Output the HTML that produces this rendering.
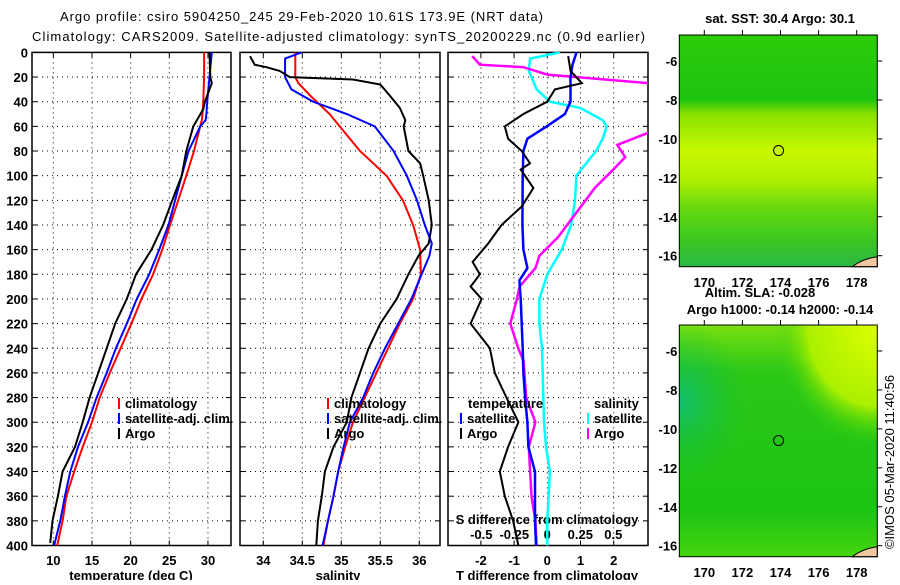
<!DOCTYPE html>
<html><head><meta charset="utf-8"><style>
body{margin:0;background:#fff}
svg text{font-family:"Liberation Sans",Arial,sans-serif;font-weight:bold;font-size:13px;fill:#000}
svg text.norm{font-weight:normal}
</style></head><body>
<svg id="chart" xmlns="http://www.w3.org/2000/svg" width="900" height="580" viewBox="0 0 900 580">
<defs>
<clipPath id="c1"><rect x="32" y="52" width="199" height="494"/></clipPath>
<clipPath id="c2"><rect x="240" y="52" width="200" height="494"/></clipPath>
<clipPath id="c3"><rect x="448" y="52" width="200" height="494"/></clipPath>
<linearGradient id="g1" x1="0" y1="0" x2="0" y2="1">
<stop offset="0" stop-color="#2ccc0a"/><stop offset="0.28" stop-color="#1ec410"/><stop offset="0.34" stop-color="#88e000"/><stop offset="0.5" stop-color="#c8f800"/><stop offset="0.62" stop-color="#b0f000"/><stop offset="0.75" stop-color="#66d810"/><stop offset="0.88" stop-color="#3cc820"/><stop offset="1" stop-color="#2cb844"/></linearGradient>
<radialGradient id="g2" cx="1" cy="0" r="0.7"><stop offset="0" stop-color="#ddff00"/><stop offset="0.5" stop-color="#aaf000"/><stop offset="0.75" stop-color="#30cc10" stop-opacity="0"/></radialGradient>
<radialGradient id="g3" cx="0" cy="0.33" r="0.35"><stop offset="0" stop-color="#10c070"/><stop offset="1" stop-color="#18c030" stop-opacity="0"/></radialGradient>
<linearGradient id="g4" x1="0" y1="0" x2="0" y2="1"><stop offset="0" stop-color="#7ae010"/><stop offset="0.2" stop-color="#2cc818"/><stop offset="0.8" stop-color="#1cc414"/><stop offset="1" stop-color="#44d410"/></linearGradient>
</defs>
<g id="root"></g>
</svg>
<script>
// depth levels (m)
const depthT = [0,20,25,40,46,60,80,100,118,140,160,180,200,220,240,260,280,300,320,340,360,380,398];
const tempArgo = [30.2,30.3,30.5,29.6,29.4,28.1,27.2,26.6,25.5,24.2,22.7,20.7,19.5,18.0,16.9,15.8,14.7,13.8,12.8,11.2,10.6,9.9,9.6];
const depthC = [0,20,40,50,55,60,80,100,140,160,180,200,220,240,260,280,300,320,340,360,380,400];
const tempClim = [29.5,29.5,29.4,29.3,29.2,29.0,28.2,27.2,25.1,24.1,22.9,21.4,20.1,18.7,17.3,16.0,15.0,13.8,12.7,11.7,11.2,10.5];
const tempSat = [30.5,30.2,29.9,29.8,29.7,29.0,27.5,26.6,24.9,23.7,22.4,20.8,19.5,18.1,16.9,15.6,14.5,13.2,12.2,11.5,10.9,10.1];
const depthSC = [0,20,25,35,50,60,80,100,120,140,160,180,200,220,240,260,280,300,320,340,360,380,400];
const salClim = [34.41,34.41,34.45,34.6,34.85,34.98,35.24,35.58,35.79,35.92,36.01,36.02,35.92,35.75,35.6,35.45,35.3,35.15,35.05,34.96,34.9,34.83,34.77];
const depthSS = [0,5,20,30,40,50,60,80,100,120,140,155,165,180,200,220,240,260,280,300,320,340,360,380,400];
const salSat = [34.49,34.28,34.28,34.36,34.64,35.07,35.43,35.67,35.84,35.97,36.07,36.16,36.13,36.03,35.9,35.73,35.56,35.41,35.28,35.11,35.03,34.96,34.9,34.83,34.76];
const depthSA = [3,10,12,15,20,22,26,35,45,55,60,80,90,100,120,140,155,165,180,200,220,240,260,280,300,320,340,360,380,400];
const salArgo = [33.83,33.89,34.04,34.21,34.34,35.15,35.5,35.62,35.75,35.82,35.8,35.86,36.01,36.05,36.12,36.16,36.12,35.99,35.86,35.71,35.5,35.35,35.24,35.13,35.07,34.9,34.79,34.75,34.7,34.68];
const depthDT = [0,10,20,40,50,60,70,80,100,140,160,175,185,200,220,240,260,280,300,320,340,360,380,400];
const tdiffSat = [0.88,0.76,0.7,0.7,0.53,-0.02,-0.6,-0.72,-0.74,-0.75,-0.72,-0.6,-0.84,-0.8,-0.77,-0.74,-0.72,-0.67,-0.6,-0.57,-0.37,-0.37,-0.37,-0.34];
const depthDA = [3,15,25,30,40,50,60,70,80,90,95,110,125,140,155,170,180,190,200,220,240,260,280,300,320,340,360,380,400];
const tdiffArgo = [0.63,0.7,1.04,0.23,0,-0.72,-1.28,-1.18,-0.77,-0.52,-0.8,-0.42,-0.77,-1.38,-1.78,-2.25,-2.03,-2.31,-1.98,-2.31,-1.73,-1.58,-1.23,-0.87,-1.18,-1.43,-1.28,-1.03,-0.87];
const depthDS = [0,5,15,30,40,45,55,60,70,80,100,120,140,160,180,200,220,240,260,280,300,320,340,360,380,400];
const sdiffSat = [0.096,-0.13,-0.14,-0.08,0.02,0.25,0.42,0.45,0.42,0.37,0.22,0.21,0.18,0.11,0,-0.06,-0.06,-0.04,-0.035,-0.03,-0.025,-0.01,0.02,0.01,0,0];
const depthDSA = [3,10,12,18,25,26,60,65,75,85,95,110,130,150,165,175,190,200,220,240,250,280,300,320,340,360,380,400];
const sdiffArgo = [-0.57,-0.51,-0.18,0,0.77,0.9,0.9,0.77,0.53,0.59,0.5,0.36,0.22,0.08,-0.06,-0.09,-0.21,-0.23,-0.28,-0.22,-0.18,-0.16,-0.09,-0.14,-0.13,-0.12,-0.09,-0.08];
const depthTicks = [0,20,40,60,80,100,120,140,160,180,200,220,240,260,280,300,320,340,360,380,400];
const tempTicks = [10,15,20,25,30];
const salTicks = [34,34.5,35,35.5,36];
const tdTicks = [-2,-1,0,1,2];
const sdTicks = [-0.5,-0.25,0,0.25,0.5];
const lonTicks = [170,172,174,176,178];
const latTicks = [-6,-8,-10,-12,-14,-16];
const argoLon = 173.9, argoLat = -10.6;

const NS='http://www.w3.org/2000/svg';
const root=document.getElementById('root');
function mk(tag,attrs,parent){const e=document.createElementNS(NS,tag);for(const k in attrs)e.setAttribute(k,attrs[k]);(parent||root).appendChild(e);return e;}
function txt(x,y,s,anchor,parent,size){const t=mk('text',{x:x,y:y,'text-anchor':anchor||'start'},parent);if(size)t.setAttribute('font-size',size);t.textContent=s;return t;}
const Y0=52.4,Y1=545.5;
const yD=d=>Y0+d*(Y1-Y0)/400;
const xT=v=>53.3+(v-10)*7.733;
const xS=v=>263.3+(v-34)*78;
const xTD=v=>547.3+v*33.2;
const xSD=v=>547.3+v*132;

function line(ds,vs,sx,color,clip,name,w){
  const pts=ds.map((d,i)=>sx(vs[i]).toFixed(1)+','+yD(d).toFixed(1)).join(' ');
  const p=mk('polyline',{points:pts,fill:'none',stroke:color,'stroke-width':w||2,'clip-path':'url(#'+clip+')'});
  
  
}
function panel(x0,x1,ticks,sx,name,fmt){
  const g=mk('g',{});
  
  
  depthTicks.forEach(d=>{if(d>0&&d<400)mk('line',{x1:x0,x2:x1,y1:yD(d),y2:yD(d),stroke:'#000','stroke-dasharray':'1,4'},g);
    mk('line',{x1:x0,x2:x0+5,y1:yD(d),y2:yD(d),stroke:'#000'},g);mk('line',{x1:x1-5,x2:x1,y1:yD(d),y2:yD(d),stroke:'#000'},g);});
  ticks.forEach(t=>{const x=sx(t);mk('line',{x1:x,x2:x,y1:Y0,y2:Y1,stroke:'#000','stroke-dasharray':'1,4'},g);
    mk('line',{x1:x,x2:x,y1:Y0,y2:Y0+5,stroke:'#000'},g);mk('line',{x1:x,x2:x,y1:Y1-5,y2:Y1,stroke:'#000'},g);
    const l=txt(x,565,fmt?fmt(t):String(t),'middle',g);});
  mk('rect',{x:x0,y:Y0,width:x1-x0,height:Y1-Y0,fill:'none',stroke:'#000','stroke-width':1.5},g);
  return g;
}
// titles
let t=txt(60,21,'Argo profile: csiro 5904250_245 29-Feb-2020 10.61S 173.9E (NRT data)','start',null,'14');
t.setAttribute('class','norm');t.setAttribute('textLength','483');

t=txt(32,41,'Climatology: CARS2009. Satellite-adjusted climatology: synTS_20200229.nc (0.9d earlier)','start',null,'14');
t.setAttribute('class','norm');t.setAttribute('textLength','613');


// depth axis labels
depthTicks.forEach(d=>{const l=txt(28,yD(d)+5,String(d),'end');});

panel(32,231,tempTicks,xT,'temperature-panel');
panel(240,440,salTicks,xS,'salinity-panel');
panel(448,648,tdTicks,xTD,'difference-panel');
t=txt(131,580,'temperature (deg C)','middle');
t=txt(338,580,'salinity','middle');
t=txt(547,580,'T difference from climatology','middle');
t=txt(547,524,'S difference from climatology','middle');
sdTicks.forEach(s=>{const l=txt(xSD(s),539,String(s),'middle');});

line(depthC,tempClim,xT,'#ff0000','c1','temp-climatology-line');
line(depthC,tempSat,xT,'#0000ff','c1','temp-satellite-line');
line(depthT,tempArgo,xT,'#000','c1','temp-argo-line');
line(depthSC,salClim,xS,'#ff0000','c2','sal-climatology-line');
line(depthSS,salSat,xS,'#0000ff','c2','sal-satellite-line');
line(depthSA,salArgo,xS,'#000','c2','sal-argo-line');
line(depthDS,sdiffSat,xSD,'#00ffff','c3','sdiff-satellite-line',2.5);
line(depthDSA,sdiffArgo,xSD,'#ff00ff','c3','sdiff-argo-line',2.5);
line(depthDT,tdiffSat,xTD,'#0000ff','c3','tdiff-satellite-line',2.5);
line(depthDA,tdiffArgo,xTD,'#000','c3','tdiff-argo-line');

function legend(x,y,items,name){
  const g=mk('g',{});
  items.forEach((it,i)=>{mk('rect',{x:x,y:y+i*15-10,width:2,height:11,fill:it[1]},g);txt(x+7,y+i*15,it[0],'start',g);});
}
legend(118,408,[['climatology','#ff0000'],['satellite-adj. clim.','#0000ff'],['Argo','#000']],'temp-legend');
legend(327,408,[['climatology','#ff0000'],['satellite-adj. clim.','#0000ff'],['Argo','#000']],'sal-legend');
txt(468,408,'temperature');txt(594,408,'salinity');
legend(460,423,[['satellite','#0000ff'],['Argo','#000']],'tdiff-legend');
legend(587,423,[['satellite','#00ffff'],['Argo','#ff00ff']],'sdiff-legend');

// maps
const MX0=679.3,MX1=877.3;
const xL=l=>704.3+(l-170)*19.05;
function map(y0,y1,fill,name,overlays){
  const g=mk('g',{});
  mk('rect',{x:MX0,y:y0,width:MX1-MX0,height:y1-y0,fill:fill},g);
  (overlays||[]).forEach(o=>mk('rect',{x:MX0,y:y0,width:MX1-MX0,height:y1-y0,fill:o},g));
  const yL=l=>y0+26+(-6-l)*19.47;
  mk('path',{d:`M${MX1-25},${y1} q10,-8 25,-10 v10 z`,fill:'#f0c8a0',stroke:'#000'},g);
  latTicks.forEach(l=>{const y=yL(l);mk('line',{x1:MX1,x2:MX1+5,y1:y,y2:y,stroke:'#000'},g);const tt=txt(MX0-2,y+5,String(l),'end',g);});
  lonTicks.forEach(l=>{const x=xL(l);mk('line',{x1:x,x2:x,y1:y0-5,y2:y0,stroke:'#000'},g);});
  mk('rect',{x:MX0,y:y0,width:MX1-MX0,height:y1-y0,fill:'none',stroke:'#000','stroke-width':1},g);
  const c=mk('circle',{cx:xL(argoLon),cy:yL(argoLat),r:5,fill:'none',stroke:'#000'},g);
  
  return g;
}
map(35,266.7,'url(#g1)','sst-map');
lonTicks.forEach(l=>{const tt=txt(xL(l),287,String(l),'middle');});
map(325,556.7,'url(#g4)','sla-map',['url(#g2)','url(#g3)']);
lonTicks.forEach(l=>{const tt=txt(xL(l),577,String(l),'middle');});
t=txt(780,23,'sat. SST: 30.4 Argo: 30.1','middle');
t=txt(760,297,'Altim. SLA: -0.028','middle');
t=txt(780,314,'Argo h1000: -0.14 h2000: -0.14','middle');
t=txt(0,0,'©IMOS 05-Mar-2020 11:40:56','middle');t.setAttribute('class','norm');
t.setAttribute('transform','translate(894,462) rotate(-90)');

</script>
</body></html>
